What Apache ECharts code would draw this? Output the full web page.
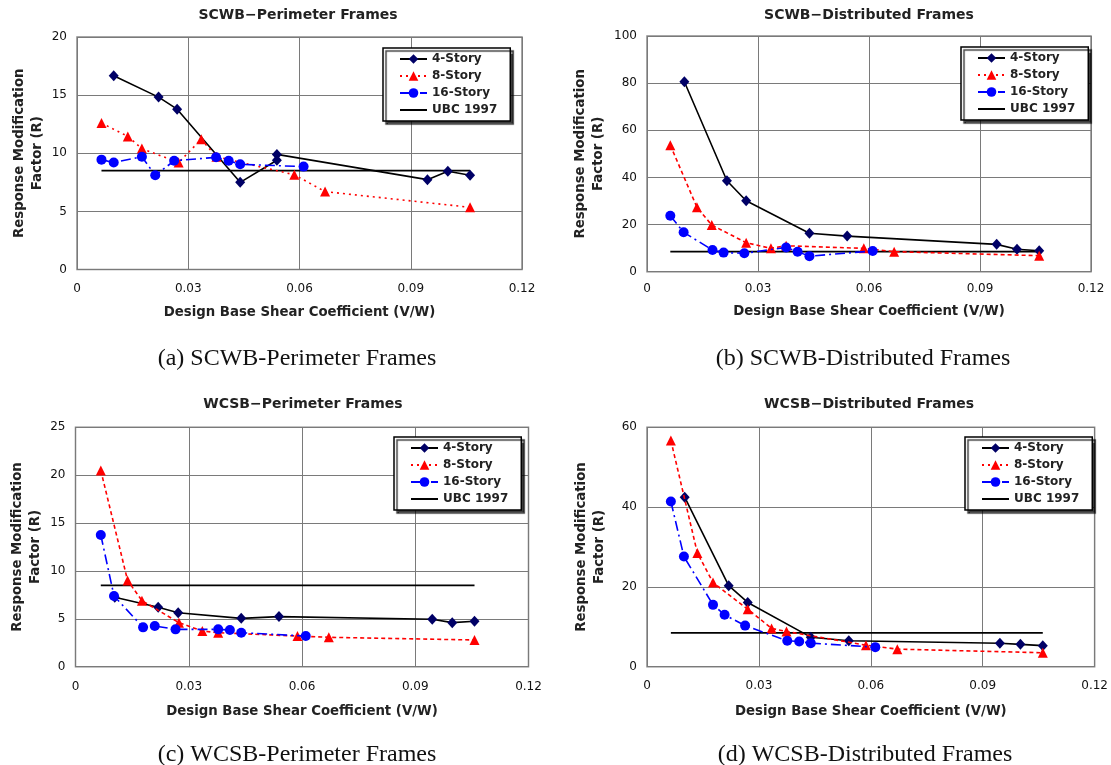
<!DOCTYPE html>
<html>
<head>
<meta charset="utf-8">
<script src="https://cdn.jsdelivr.net/npm/echarts@6/dist/echarts.min.js"></script>
<style>
html, body { margin: 0; padding: 0; background: #fff; }
#chart { width: 1111px; height: 765px; }
</style>
</head>
<body>
<div id="chart"></div>
<script>
// values: [V/W, R]
// (a) SCWB-Perimeter Frames
var scwbPer4 = [[0.0099, 16.67], [0.0220, 14.83], [0.0270, 13.79], [0.0440, 7.5], [0.0539, 9.4], [0.0539, 9.9], [0.0945, 7.73], [0.1000, 8.45], [0.1060, 8.1]];
var scwbPer8 = [[0.0066, 12.6], [0.0137, 11.45], [0.0175, 10.4], [0.0274, 9.2], [0.0335, 11.2], [0.0376, 9.7], [0.0586, 8.15], [0.0669, 6.7], [0.1060, 5.35]];
var scwbPer16 = [[0.0066, 9.45], [0.0099, 9.2], [0.0175, 9.7], [0.0211, 8.1], [0.0262, 9.35], [0.0375, 9.65], [0.0409, 9.35], [0.0440, 9.05], [0.0611, 8.85]];
// (b) SCWB-Distributed Frames
var scwbDist4 = [[0.0101, 80.6], [0.0216, 38.6], [0.0268, 30.1], [0.0439, 16.3], [0.0541, 15.1], [0.0945, 11.6], [0.1000, 9.5], [0.1060, 8.9]];
var scwbDist8 = [[0.0063, 53.7], [0.0135, 27.3], [0.0175, 19.8], [0.0268, 12.3], [0.0335, 9.9], [0.0376, 11], [0.0586, 9.9], [0.0668, 8.5], [0.1060, 6.8]];
var scwbDist16 = [[0.0063, 23.7], [0.0099, 16.7], [0.0177, 9.2], [0.0207, 8.1], [0.0263, 7.8], [0.0376, 10.3], [0.0407, 8.5], [0.0439, 6.6], [0.0610, 8.8]];
// (c) WCSB-Perimeter Frames
var wcsbPer4 = [[0.0104, 7.25], [0.0219, 6.2], [0.0272, 5.64], [0.0439, 5.05], [0.0539, 5.23], [0.0945, 4.95], [0.0998, 4.6], [0.1057, 4.74]];
var wcsbPer8 = [[0.0067, 20.5], [0.0138, 9.0], [0.0176, 6.9], [0.0274, 4.6], [0.0336, 3.73], [0.0378, 3.55], [0.0588, 3.2], [0.0671, 3.07], [0.1057, 2.79]];
var wcsbPer16 = [[0.0067, 13.76], [0.0102, 7.39], [0.0179, 4.11], [0.0210, 4.25], [0.0265, 3.9], [0.0378, 3.9], [0.0409, 3.83], [0.0439, 3.55], [0.0610, 3.2]];
// (d) WCSB-Distributed Frames
var wcsbDist4 = [[0.0101, 42.5], [0.0219, 20.3], [0.0270, 16.1], [0.0439, 7.4], [0.0541, 6.5], [0.0946, 5.86], [0.1001, 5.6], [0.1061, 5.27]];
var wcsbDist8 = [[0.0064, 56.7], [0.0135, 28.5], [0.0177, 21.1], [0.0270, 14.4], [0.0334, 9.6], [0.0374, 8.8], [0.0587, 5.4], [0.0671, 4.4], [0.1061, 3.5]];
var wcsbDist16 = [[0.0064, 41.4], [0.0099, 27.6], [0.0177, 15.5], [0.0208, 13], [0.0263, 10.3], [0.0376, 6.5], [0.0408, 6.3], [0.0439, 5.9], [0.0612, 4.9]];

// UBC 1997 code value and the V/W span it is drawn over in each panel
var ubcR = 8.5;
var ubcSpans = [[0.0066, 0.1060], [0.0063, 0.1060], [0.0067, 0.1057], [0.0064, 0.1061]];

var panelTitles = ['SCWB\u2212Perimeter Frames', 'SCWB\u2212Distributed Frames', 'WCSB\u2212Perimeter Frames', 'WCSB\u2212Distributed Frames'];
var captions = ['(a) SCWB-Perimeter Frames', '(b) SCWB-Distributed Frames', '(c) WCSB-Perimeter Frames', '(d) WCSB-Distributed Frames'];
var yMax = [20, 100, 25, 60];
var yStep = [5, 20, 5, 20];
var legendNames = ['4-Story', '8-Story', '16-Story', 'UBC 1997'];

var SANS = 'DejaVu Sans';
var SERIF = 'Liberation Serif';

// layout of the four panels
var grids = [
    {left: 77, top: 37, width: 445, height: 232.5},
    {left: 647, top: 36, width: 444, height: 235.7},
    {left: 75.5, top: 427.3, width: 453, height: 239.4},
    {left: 647, top: 427.3, width: 451, height: 239.4}
];
var titlePos = [[298, 8], [869, 8], [303, 397], [869, 397]];
var captionPos = [[297, 347], [863, 347], [297, 743], [865, 743]];
var legendPos = [[383, 48], [961, 47], [394, 437], [965, 437]];
var xNameGap = [35, 32, 37, 37];
var yNameGap = [31, 40, 31, 39];
var xLabelMargin = [13, 11, 14, 13];

function storySeries(gi, d4, d8, d16, span, dash8) {
    return [
        {
            name: '4-Story', type: 'line', xAxisIndex: gi, yAxisIndex: gi, data: d4,
            symbol: 'diamond', symbolSize: [10, 11],
            lineStyle: {color: '#000', width: 1.6},
            itemStyle: {color: '#000066'}, z: 4
        },
        {
            name: '8-Story', type: 'line', xAxisIndex: gi, yAxisIndex: gi, data: d8,
            symbol: 'triangle', symbolSize: 10,
            lineStyle: {color: '#ff0000', width: 1.6, type: dash8},
            itemStyle: {color: '#ff0000'}, z: 5
        },
        {
            name: '16-Story', type: 'line', xAxisIndex: gi, yAxisIndex: gi, data: d16,
            symbol: 'circle', symbolSize: 10,
            lineStyle: {color: '#0000ff', width: 1.6, type: [10, 4, 2, 4]},
            itemStyle: {color: '#0000ff'}, z: 6
        },
        {
            name: 'UBC 1997', type: 'line', xAxisIndex: gi, yAxisIndex: gi,
            data: [[span[0], ubcR], [span[1], ubcR]],
            symbol: 'none',
            lineStyle: {color: '#000', width: 1.8},
            itemStyle: {color: '#000'}, z: 3
        }
    ];
}

var series = []
    .concat(storySeries(0, scwbPer4, scwbPer8, scwbPer16, ubcSpans[0], [2, 4]))
    .concat(storySeries(1, scwbDist4, scwbDist8, scwbDist16, ubcSpans[1], [4, 3]))
    .concat(storySeries(2, wcsbPer4, wcsbPer8, wcsbPer16, ubcSpans[2], [4, 3]))
    .concat(storySeries(3, wcsbDist4, wcsbDist8, wcsbDist16, ubcSpans[3], [4, 3]));

// legend entries; the code line has no marker
var legendData = legendNames.map(function (n) {
    return n === 'UBC 1997' ? {name: n, itemStyle: {opacity: 0}} : {name: n};
});

var titles = [], xAxes = [], yAxes = [], legends = [], gridOpts = [];
for (var i = 0; i < 4; i++) {
    gridOpts.push({
        left: grids[i].left, top: grids[i].top, width: grids[i].width, height: grids[i].height,
        show: true, borderColor: '#8a8a8a', borderWidth: 1.5, backgroundColor: '#fff'
    });
    titles.push({
        text: panelTitles[i], left: titlePos[i][0], top: titlePos[i][1], textAlign: 'center', padding: 0,
        textStyle: {fontFamily: SANS, fontSize: 14, fontWeight: 'bold', color: '#222'}
    });
    titles.push({
        text: captions[i], left: captionPos[i][0], top: captionPos[i][1], textAlign: 'center', padding: 0,
        textStyle: {fontFamily: SERIF, fontSize: 24, fontWeight: 'normal', color: '#111'}
    });
    xAxes.push({
        type: 'value', gridIndex: i, min: 0, max: 0.12, interval: 0.03,
        name: 'Design Base Shear Coefficient (V/W)', nameLocation: 'middle', nameGap: xNameGap[i],
        nameTextStyle: {fontFamily: SANS, fontSize: 13.3, fontWeight: 'bold', color: '#222', lineHeight: 16},
        axisLine: {show: false}, axisTick: {show: false},
        axisLabel: {fontFamily: SANS, fontSize: 12, color: '#111', margin: xLabelMargin[i]},
        splitLine: {show: true, lineStyle: {color: '#7a7a7a', width: 1}}
    });
    yAxes.push({
        type: 'value', gridIndex: i, min: 0, max: yMax[i], interval: yStep[i],
        name: 'Response Modification\nFactor (R)', nameLocation: 'middle', nameGap: yNameGap[i], nameRotate: 90,
        nameTextStyle: {fontFamily: SANS, fontSize: 13.3, fontWeight: 'bold', color: '#222', lineHeight: 17.7},
        axisLine: {show: false}, axisTick: {show: false},
        axisLabel: {fontFamily: SANS, fontSize: 12, color: '#111', margin: 10},
        splitLine: {show: true, lineStyle: {color: '#7a7a7a', width: 1}}
    });
    legends.push({
        data: legendData, orient: 'vertical', left: legendPos[i][0], top: legendPos[i][1],
        itemWidth: 27, itemHeight: 12, itemGap: 3, padding: [4, 13, 4, 16],
        backgroundColor: '#fff', borderColor: '#000', borderWidth: 1.5,
        shadowColor: 'rgba(0,0,0,0.75)', shadowBlur: 1, shadowOffsetX: 3, shadowOffsetY: 3,
        selectedMode: false,
        textStyle: {fontFamily: SANS, fontSize: 12, fontWeight: 'bold', color: '#222', lineHeight: 14}
    });
}

var chart = echarts.init(document.getElementById('chart'));
chart.setOption({
    animation: false,
    backgroundColor: '#fff',
    title: titles,
    grid: gridOpts,
    xAxis: xAxes,
    yAxis: yAxes,
    legend: legends,
    series: series
});
</script>
</body>
</html>
